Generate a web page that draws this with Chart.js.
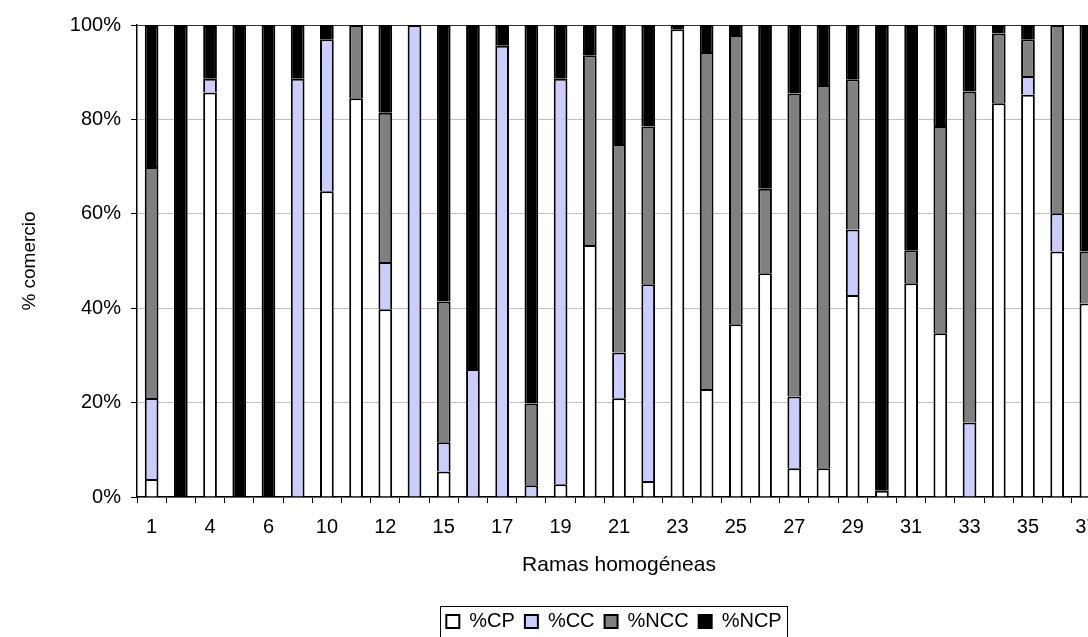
<!DOCTYPE html>
<html>
<head>
<meta charset="utf-8">
<script src="https://cdn.jsdelivr.net/npm/chart.js@4.4.1/dist/chart.umd.min.js"></script>
<style>
  html, body { margin: 0; padding: 0; background: #fff; overflow: hidden; }
  #chart { display: block; }
</style>
</head>
<body>
<canvas id="chart" width="1228" height="637"></canvas>
<script>
// Ramas homogéneas (only every other label is shown on the axis)
const categories = ['1', '2', '4', '5', '6', '8', '10', '11', '12', '13', '15', '16', '17', '18', '19', '20', '21',
	'22', '23', '24', '25', '26', '27', '28', '29', '30', '31', '32', '33', '34', '35', '36', '37'];

// shares of trade per branch, in %
const cpValues = [3.8, 0, 85.7, 0, 0, 0, 64.8, 84.5, 39.8, 0, 5.4, 0, 0, 0, 2.7, 53.4, 20.9,
	3.4, 99.1, 22.9, 36.6, 47.4, 6.1, 6.1, 42.8, 1.3, 45.3, 34.7, 0, 83.4, 85.2, 52.0, 41.0];
const ccValues = [17.2, 0, 2.9, 0, 0, 88.6, 32.2, 0, 10.0, 100, 6.2, 27.1, 95.6, 2.5, 85.9, 0, 9.7,
	41.7, 0, 0, 0, 0, 15.2, 0, 13.9, 0, 0, 0, 15.8, 0, 4.0, 8.1, 0];
const nccValues = [48.9, 0, 0, 0, 0, 0, 0, 15.5, 31.6, 0, 29.8, 0, 0, 17.3, 0, 40.2, 44.2,
	33.4, 0, 71.4, 61.3, 17.9, 64.2, 81.2, 31.8, 0, 7.0, 43.9, 70.1, 14.8, 7.8, 39.9, 11.0];
const ncpValues = [30.1, 100, 11.4, 100, 100, 11.4, 3.0, 0, 18.6, 0, 58.6, 72.9, 4.4, 80.2, 11.4, 6.4, 25.2,
	21.5, 0.9, 5.7, 2.1, 34.7, 14.5, 12.7, 11.5, 98.7, 47.7, 21.4, 14.1, 1.8, 3.0, 0, 48.0];

const yTicks = [0, 20, 40, 60, 80, 100];

Chart.defaults.font.family = "'Liberation Sans', Arial, sans-serif";
Chart.defaults.color = '#000';

// Draws the thin frame round the legend, like the spreadsheet legend box
const legendFrame = {
	id: 'legendFrame',
	afterDraw(chart) {
		const boxes = chart.legend && chart.legend.legendHitBoxes;
		if (!boxes || !boxes.length) return;
		let l = Infinity, r = -Infinity, t = Infinity, b = -Infinity;
		boxes.forEach(h => {
			l = Math.min(l, h.left);
			r = Math.max(r, h.left + h.width);
			t = Math.min(t, h.top);
			b = Math.max(b, h.top + h.height);
		});
		const ctx = chart.ctx;
		ctx.save();
		ctx.strokeStyle = '#000';
		ctx.lineWidth = 1;
		ctx.strokeRect(Math.round(l - 6) + 0.5, Math.round(t - 6) + 0.5, Math.round(r - l + 12), Math.round(b - t + 12));
		ctx.restore();
	}
};

function series(label, data, color) {
	return {
		label: label,
		data: data,
		backgroundColor: color,
		borderColor: '#000',
		borderWidth: 2,
		barPercentage: 0.47,
		categoryPercentage: 1
	};
}

new Chart(document.getElementById('chart'), {
	type: 'bar',
	data: {
		labels: categories,
		datasets: [
			series('%CP', cpValues, '#ffffff'),
			series('%CC', ccValues, '#ccccff'),
			series('%NCC', nccValues, '#808080'),
			series('%NCP', ncpValues, '#000000')
		]
	},
	options: {
		responsive: false,
		animation: false,
		layout: { padding: { top: 25, left: 0, right: 0, bottom: -4.5 } },
		plugins: {
			legend: {
				position: 'bottom',
				labels: {
					boxWidth: 13,
					boxHeight: 13,
					padding: 10,
					color: '#000',
					font: { size: 20 }
				}
			},
			tooltip: { enabled: false }
		},
		scales: {
			x: {
				stacked: true,
				grid: {
					offset: true,
					drawOnChartArea: false,
					drawTicks: true,
					tickLength: 6,
					tickColor: '#000'
				},
				border: { color: '#000', width: 1.5 },
				ticks: {
					autoSkip: false,
					maxRotation: 0,
					padding: 12,
					font: { size: 20 },
					callback: (v, i) => (i % 2 === 0 ? categories[i] : '')
				},
				title: {
					display: true,
					text: 'Ramas homogéneas',
					font: { size: 21 },
					padding: { top: 0, bottom: 24 }
				},
				afterFit: s => { s.height = 104.5; }
			},
			y: {
				stacked: true,
				min: 0,
				max: 100,
				afterBuildTicks: s => { s.ticks = yTicks.map(v => ({ value: v })); },
				grid: {
					color: c => (c.tick && c.tick.value === 100 ? '#333' : '#c0c0c0'),
					tickLength: 6,
					tickColor: '#000'
				},
				border: { color: '#000', width: 1.5 },
				ticks: {
					padding: 10,
					font: { size: 20 },
					callback: v => v + '%'
				},
				title: {
					display: true,
					text: '% comercio',
					font: { size: 19 },
					padding: { top: 18, bottom: 0 }
				},
				afterFit: s => { s.width = 137; }
			},
			// empty axis that keeps the plot the same width as the original (it runs past the picture)
			yRight: {
				type: 'linear',
				position: 'right',
				grid: { display: false },
				border: { display: false },
				ticks: { display: false },
				afterFit: s => { s.width = 127; }
			}
		}
	},
	plugins: [legendFrame]
});
</script>
</body>
</html>
